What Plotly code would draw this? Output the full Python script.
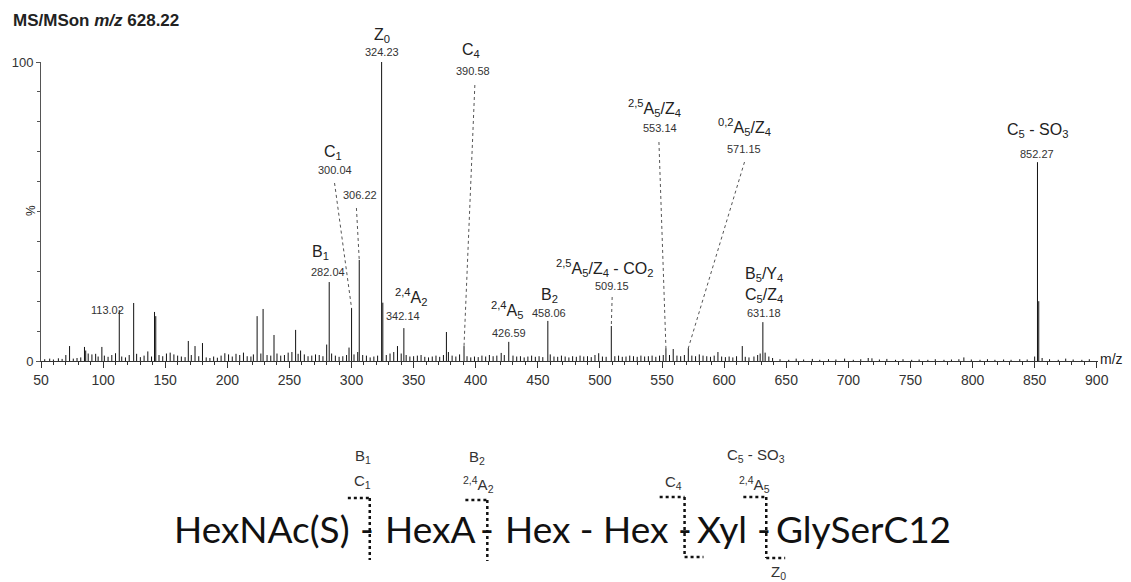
import plotly.graph_objects as go

# ---------------- spectrum data ----------------
# annotated fragment peaks (m/z, relative intensity %)
labeled_mz = [113.02, 282.04, 300.04, 306.22, 324.23, 342.14, 390.58,
              426.59, 458.06, 509.15, 553.14, 571.15, 631.18, 852.27]
labeled_int = [17.0, 26.4, 17.7, 33.8, 100.0, 11.0, 5.0,
               6.4, 13.4, 11.7, 4.3, 4.3, 13.0, 66.5]

# other visible peaks
other_mz = [73.0, 85.0, 99.0, 124.6, 141.4, 142.4, 168.6, 174.0, 180.0,
            224.0, 228.8, 237.6, 255.0, 325.2, 337.0, 376.4, 420.5,
            559.0, 595.0, 614.6, 853.3, 793.0]
other_int = [5.0, 4.7, 4.7, 19.4, 16.4, 15.0, 6.7, 5.0, 6.0,
             15.0, 17.4, 8.7, 10.4, 19.5, 5.0, 9.7, 2.7,
             4.0, 3.0, 5.0, 20.0, 1.2]

# baseline chemical noise
noise_mz = [53, 57, 60, 64, 67, 70, 76, 79, 82, 86, 88, 91, 94, 96, 101, 104,
            107, 110, 115, 118, 121, 127, 130, 133, 136, 139, 145, 148, 151,
            154, 157, 160, 163, 166, 171, 177, 183, 186, 189, 192, 195, 198,
            201, 204, 207, 210, 213, 216, 219, 221, 227, 232, 235, 240, 243,
            246, 249, 252, 257, 259, 262, 265, 268, 271, 274, 277, 280, 284,
            287, 290, 293, 296, 298, 302, 305, 309, 312, 315, 318, 321, 328,
            331, 334, 340, 344, 347, 350, 353, 356, 359, 362, 365, 368, 371,
            374, 378, 381, 384, 387, 393, 396, 399, 402, 405, 408, 411, 414,
            417, 423, 430, 433, 436, 439, 442, 445, 448, 451, 454, 460, 463,
            466, 469, 472, 475, 478, 481, 484, 487, 490, 493, 496, 499, 502,
            505, 512, 515, 518, 521, 524, 527, 530, 533, 536, 539, 542, 545,
            548, 551, 556, 562, 565, 568, 574, 577, 580, 583, 586, 589, 592,
            598, 601, 604, 607, 610, 617, 620, 624, 627, 629, 633, 636, 639,
            645, 652, 658, 664, 671, 677, 684, 690, 697, 704, 710, 716, 719,
            725, 731, 738, 744, 751, 757, 764, 770, 777, 783, 789, 799, 806,
            812, 818, 825, 831, 838, 844, 850, 856, 862, 869, 875, 881, 888, 894]
noise_int = [0.6, 0.8, 0.5, 0.9, 0.7, 2.0, 0.8, 1.0, 1.2, 3.5, 2.5, 2.2, 2.4,
             1.5, 1.8, 1.4, 2.0, 2.6, 1.5, 1.2, 2.0, 2.4, 1.3, 1.8, 3.2, 1.5,
             2.0, 1.6, 2.5, 2.8, 2.2, 1.8, 1.5, 1.3, 2.0, 1.6, 1.2, 1.0, 1.5,
             1.1, 1.8, 2.6, 2.2, 1.5, 2.4, 2.0, 2.8, 1.6, 1.5, 2.2, 2.5, 2.0,
             1.8, 2.5, 1.8, 2.0, 2.8, 3.0, 2.4, 3.5, 2.2, 1.6, 1.8, 2.2, 2.0,
             1.6, 5.5, 2.5, 1.8, 1.4, 1.6, 2.0, 4.5, 2.2, 3.0, 2.0, 1.8, 1.2,
             1.5, 1.8, 2.0, 2.5, 3.0, 2.5, 2.0, 1.5, 1.6, 1.8, 2.0, 1.4, 1.2,
             1.5, 1.8, 1.4, 2.0, 3.0, 1.8, 1.5, 2.2, 1.6, 1.2, 1.5, 1.3, 1.8,
             1.5, 2.0, 1.6, 1.8, 2.0, 1.8, 1.5, 1.6, 1.2, 1.5, 1.8, 1.4, 1.6,
             1.3, 2.2, 1.5, 1.4, 1.8, 1.5, 1.2, 1.6, 1.4, 1.8, 1.5, 1.6, 1.3,
             2.0, 2.6, 1.5, 1.4, 1.6, 1.8, 1.4, 1.5, 1.8, 1.6, 1.4, 1.8, 1.5,
             1.6, 1.8, 1.4, 1.8, 2.0, 2.0, 1.8, 1.6, 2.0, 1.8, 1.6, 2.2, 1.8,
             1.6, 1.4, 1.8, 1.5, 1.3, 1.5, 1.2, 1.6, 1.4, 1.2, 1.5, 2.0, 2.5,
             2.8, 1.5, 1.0, 0.6, 0.4, 0.8, 0.5, 0.7, 0.4, 0.6, 0.5, 0.8, 0.4,
             0.6, 1.0, 0.9, 0.5, 0.7, 0.4, 0.6, 0.4, 0.5, 0.4, 0.6, 0.4, 0.5,
             0.6, 0.5, 0.4, 0.6, 0.4, 0.5, 0.4, 0.6, 0.5, 1.5, 1.0, 0.6, 0.4,
             0.8, 0.5, 0.4, 0.6]

# fragment names for the annotated peaks ('' = value only)
labeled_names = ["", "B<sub>1</sub>", "C<sub>1</sub>", "", "Z<sub>0</sub>",
                 "<sup>2,4</sup>A<sub>2</sub>", "C<sub>4</sub>",
                 "<sup>2,4</sup>A<sub>5</sub>", "B<sub>2</sub>",
                 "<sup>2,5</sup>A<sub>5</sub>/Z<sub>4</sub> - CO<sub>2</sub>",
                 "<sup>2,5</sup>A<sub>5</sub>/Z<sub>4</sub>",
                 "<sup>0,2</sup>A<sub>5</sub>/Z<sub>4</sub>",
                 "B<sub>5</sub>/Y<sub>4</sub><br>C<sub>5</sub>/Z<sub>4</sub>",
                 "C<sub>5</sub> - SO<sub>3</sub>"]

x_ticks = list(range(50, 901, 50))

# glycan sequence and cleavage labels
residues = ["HexNAc(S)", "-", "HexA", "-", "Hex - Hex", "-", "Xyl", "-", "GlySerC12"]

# ---------------- layout geometry (pixels) ----------------
W, H = 1131, 582
L, R, T, B = 37, 1098, 62, 361          # plot area edges
XMIN, XMAX = 50, 900


def paper(px, py):
    return (px - L) / (R - L), (B - py) / (B - T)


def data(px, py):
    return XMIN + (px - L) * (XMAX - XMIN) / (R - L), (B - py) * 100 / (B - T)


LABEL_FONT = "Liberation Sans, Arial, sans-serif"
INK = "#222222"

# stick spectrum
all_mz = noise_mz + other_mz + labeled_mz
all_int = noise_int + other_int + labeled_int
sx, sy = [], []
for m, v in zip(all_mz, all_int):
    sx += [m, m, None]
    sy += [0, v, None]

fig = go.Figure()
fig.add_trace(go.Scatter(x=sx, y=sy, mode="lines",
                         line=dict(color="#111111", width=1),
                         hoverinfo="skip", showlegend=False))

# label placement per annotated peak: name (x,y), value (x,y), leader start or None
label_pos = [
    (None, (104, 310), None),
    ((318, 252), (325, 272), None),
    ((330, 152), (332, 170), (332, 183)),
    (None, (357, 195), (354, 208)),
    ((379, 35), (379, 52), None),
    ((408, 297), (400, 316), None),
    ((469, 50), (471, 71), (473, 85)),
    ((505, 310), (507, 333), None),
    ((547, 295), (547, 313), None),
    ((603, 268), (610, 286), (611, 297)),
    ((653, 108), (658, 128), (658, 142)),
    ((743, 127), (743, 149), (744, 162)),
    ((763, 285), (763, 313), None),
    ((1037, 130), (1037, 154), None),
]

annotations = []
shapes = []
for m, v, name, (npos, vpos, lead) in zip(labeled_mz, labeled_int, labeled_names, label_pos):
    if name and npos:
        xp, yp = paper(*npos)
        annotations.append(dict(x=xp, y=yp, xref="paper", yref="paper", text=name,
                                showarrow=False, xanchor="center", yanchor="middle",
                                font=dict(family=LABEL_FONT, size=16, color=INK)))
    xp, yp = paper(*vpos)
    annotations.append(dict(x=xp, y=yp, xref="paper", yref="paper", text=f"{m:.2f}",
                            showarrow=False, xanchor="center", yanchor="middle",
                            font=dict(family=LABEL_FONT, size=11, color="#333333")))
    if lead:
        x0, y0 = data(*lead)
        shapes.append(dict(type="line", xref="x", yref="y", x0=x0, y0=y0, x1=m, y1=v,
                           line=dict(color="#555555", width=1, dash="dot")))

# title, axis captions
for text, pos, size, extra in [
    ("<b>MS/MSon <i>m/z</i> 628.22</b>", (7, 20), 17, dict(xanchor="left")),
    ("m/z", (1112, 359), 14, dict(xanchor="center")),
]:
    xp, yp = paper(*pos)
    annotations.append(dict(x=xp, y=yp, xref="paper", yref="paper", text=text,
                            showarrow=False, yanchor="middle",
                            font=dict(family=LABEL_FONT, size=size, color=INK), **extra))
xp, yp = paper(18, 211)
annotations.append(dict(x=xp, y=yp, xref="paper", yref="paper", text="%", textangle=-90,
                        showarrow=False, font=dict(family=LABEL_FONT, size=12, color=INK)))

# glycan sequence text
SEQ_FONT = "Lato, Open Sans, sans-serif"
seq_x = [259, 364, 427, 485, 585, 683, 721, 763, 863]
for txt, cx in zip(residues, seq_x):
    xp, yp = paper(cx, 528)
    annotations.append(dict(x=xp, y=yp, xref="paper", yref="paper", text=txt,
                            showarrow=False, xanchor="center", yanchor="middle",
                            font=dict(family=SEQ_FONT, size=37, color="#111111")))

# cleavage labels on the sequence
cleavage_labels = [
    ("B<sub>1</sub>", (360, 456)), ("C<sub>1</sub>", (360, 481)),
    ("B<sub>2</sub>", (475, 457)), ("<sup>2,4</sup>A<sub>2</sub>", (476, 484)),
    ("C<sub>4</sub>", (672, 482)),
    ("C<sub>5</sub> - SO<sub>3</sub>", (755, 455)), ("<sup>2,4</sup>A<sub>5</sub>", (753, 484)),
    ("Z<sub>0</sub>", (777, 572)),
]
for txt, pos in cleavage_labels:
    xp, yp = paper(*pos)
    annotations.append(dict(x=xp, y=yp, xref="paper", yref="paper", text=txt,
                            showarrow=False, xanchor="center", yanchor="middle",
                            font=dict(family=LABEL_FONT, size=15, color="#333333")))

# dotted cleavage brackets
bracket_paths = [
    [(345, 498), (367, 498), (367, 560)],
    [(463, 500), (485, 500), (485, 561)],
    [(658, 497), (683, 497), (683, 557), (702, 557)],
    [(742, 497), (765, 497), (765, 558), (784, 558)],
]
for path in bracket_paths:
    for (ax, ay), (bx, by) in zip(path[:-1], path[1:]):
        x0, y0 = paper(ax, ay)
        x1, y1 = paper(bx, by)
        shapes.append(dict(type="line", xref="paper", yref="paper", x0=x0, y0=y0,
                           x1=x1, y1=y1, line=dict(color="#111111", width=2.5, dash="dot")))

fig.update_layout(
    width=W, height=H, autosize=False,
    margin=dict(l=L, r=W - R, t=T, b=H - B, pad=0),
    paper_bgcolor="white", plot_bgcolor="white",
    annotations=annotations, shapes=shapes,
    xaxis=dict(range=[XMIN, XMAX + 1], showgrid=False, zeroline=False,
               showline=True, linecolor="#333333", linewidth=1,
               tickmode="array", tickvals=x_ticks, ticktext=[str(t) for t in x_ticks],
               ticks="outside", ticklen=6, tickcolor="#333333",
               minor=dict(dtick=10, tick0=50, ticks="outside", ticklen=3, tickcolor="#333333"),
               tickfont=dict(family=LABEL_FONT, size=14, color="#333333")),
    yaxis=dict(range=[0, 100], showgrid=False, zeroline=False,
               showline=True, linecolor="#555555", linewidth=1,
               tickmode="array", tickvals=[0, 100], ticktext=["0", "100"],
               ticks="outside", ticklen=4, tickcolor="#555555",
               minor=dict(dtick=10, tick0=0, ticks="outside", ticklen=3, tickcolor="#555555"),
               tickfont=dict(family=LABEL_FONT, size=13, color="#333333")),
)

fig.write_html("out.html")
